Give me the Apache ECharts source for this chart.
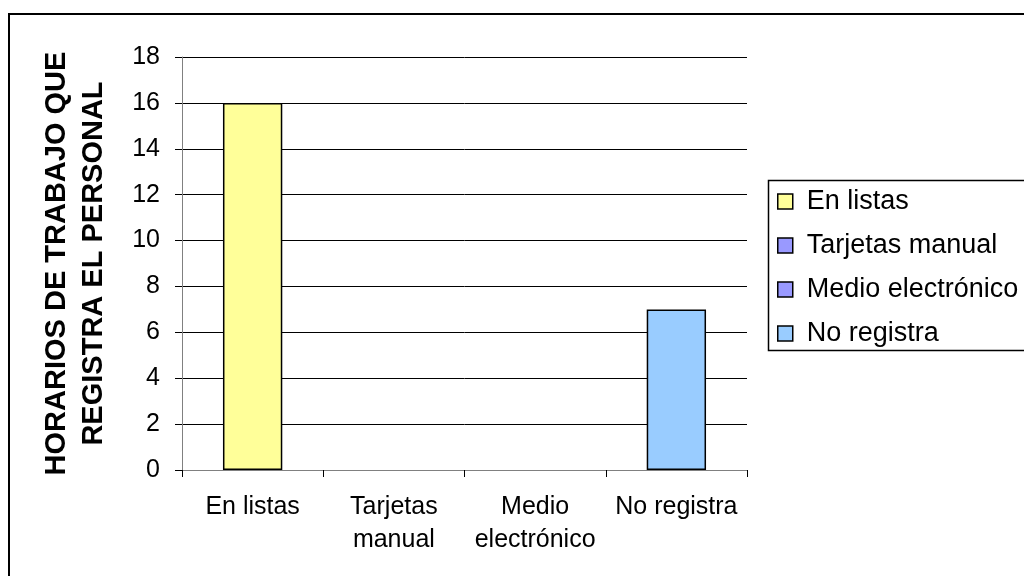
<!DOCTYPE html>
<html>
<head>
<meta charset="utf-8">
<script src="https://cdn.jsdelivr.net/npm/echarts@6/dist/echarts.min.js"></script>
<style>
html,body{margin:0;padding:0;background:#fff;}
#c{width:1024px;height:576px;}
</style>
</head>
<body>
<div id="c"></div>
<script>
var categories = ['En listas', 'Tarjetas manual', 'Medio electrónico', 'No registra'];
var axisLabels = ['En listas', 'Tarjetas\nmanual', 'Medio\nelectrónico', 'No registra'];
var values = [16, 0, 0, 7];
var colors = ['#FFFF99', '#9999FF', '#9999FF', '#99CCFF'];
var yTicks = { min: 0, max: 18, interval: 2 };
var yAxisTitle = 'HORARIOS DE TRABAJO QUE\nREGISTRA EL PERSONAL';

var FONT = '"Liberation Sans", Arial, sans-serif';
var chart = echarts.init(document.getElementById('c'));

var series = categories.map(function (name, i) {
  return {
    name: name,
    type: 'bar',
    stack: 'all',
    barWidth: '42%',
    itemStyle: { color: colors[i], borderColor: '#000', borderWidth: 1.5 },
    data: values.map(function (v, j) {
      if (j !== i) return '-';
      return v === 0 ? { value: v, itemStyle: { borderWidth: 0 } } : v;
    })
  };
});

chart.setOption({
  animation: false,
  backgroundColor: '#fff',
  grid: { left: 182, top: 57, right: 277, bottom: 106 },
  xAxis: {
    type: 'category',
    data: axisLabels,
    axisLine: { lineStyle: { color: '#808080', width: 1 } },
    axisTick: { show: true, length: 7, lineStyle: { color: '#000' } },
    axisLabel: { fontFamily: FONT, fontSize: 25, color: '#000', lineHeight: 33, margin: 21, interval: 0 }
  },
  yAxis: {
    type: 'value',
    min: yTicks.min, max: yTicks.max, interval: yTicks.interval,
    name: yAxisTitle,
    nameLocation: 'middle',
    nameRotate: 90,
    nameGap: 70,
    nameTextStyle: { fontFamily: FONT, fontSize: 29, fontWeight: 'bold', color: '#000', lineHeight: 37 },
    axisLine: { show: true, lineStyle: { color: '#808080', width: 1 } },
    axisTick: { show: true, length: 7, lineStyle: { color: '#000' } },
    axisLabel: { fontFamily: FONT, fontSize: 25, color: '#000', margin: 22 },
    splitLine: { show: true, lineStyle: { color: '#000', width: 1 } }
  },
  legend: {
    orient: 'vertical',
    left: 777,
    top: 188,
    padding: 0,
    itemWidth: 15,
    itemHeight: 15,
    itemGap: 17,
    icon: 'rect',
    data: categories,
    itemStyle: { borderColor: '#000', borderWidth: 1.5 },
    textStyle: { fontFamily: FONT, fontSize: 27, lineHeight: 27, color: '#000', padding: [0, 0, 0, 9] }
  },
  graphic: [
    { type: 'rect', silent: true, shape: { x: 9, y: 14, width: 1100, height: 600 },
      style: { fill: 'none', stroke: '#000', lineWidth: 2 } },
    { type: 'rect', silent: true, shape: { x: 768.5, y: 180.5, width: 400, height: 170 },
      style: { fill: 'none', stroke: '#000', lineWidth: 1.5 } }
  ],
  series: series
});
</script>
</body>
</html>
